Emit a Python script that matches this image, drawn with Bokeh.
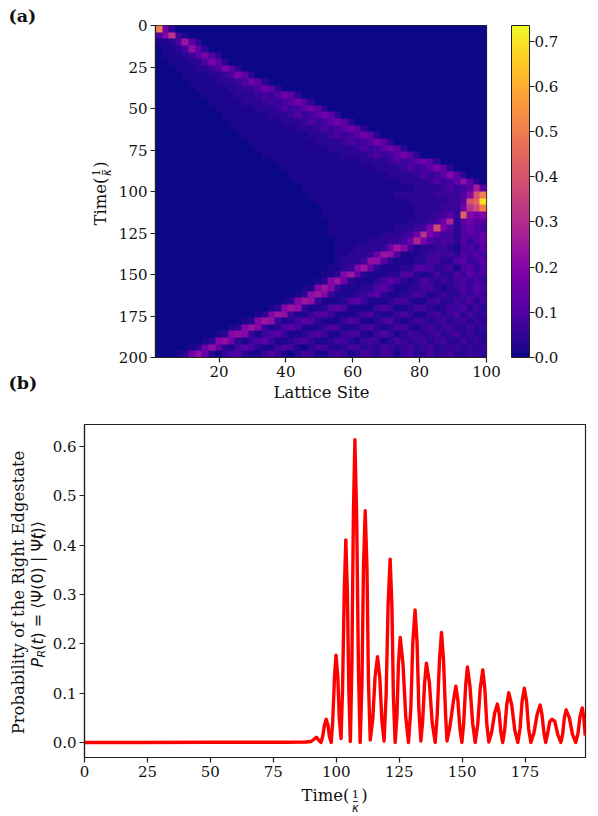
from bokeh.plotting import figure
from bokeh.core.properties import value
from bokeh.models import (ColorBar, FixedTicker, LinearColorMapper,
                          NumeralTickFormatter, Range1d)
from bokeh.layouts import column, row
from bokeh.palettes import Plasma256
from bokeh.embed import file_html
from bokeh.resources import INLINE
import numpy as np
import math

SERIF = "DejaVu Serif"
SANS = "DejaVu Sans"

# Panel (a): estimated intensity per cell, 50 columns (2 sites each) x 50 rows (4 time units each).
# heat_starts gives the first non-background column of each row; each character of
# heat_levels is a base-36 level, in units of 0.02.
heat_starts = [0, 0, 0, 0, 0, 2, 3, 4, 5, 6, 7, 8, 9, 10, 11, 12, 13, 14, 15, 16, 18, 19, 20, 21, 22,
               23, 24, 25, 25, 26, 26, 26, 27, 27, 27, 27, 26, 25, 24, 22, 21, 19, 17, 15, 13, 11, 9, 7, 5, 3]
heat_levels = [
    "p82",
    "5ag31",
    "1125c62",
    "01124b62",
    "0111236952",
    "111225962",
    "1112235962",
    "11112235962",
    "111122235862",
    "1111122335862",
    "111112223435862",
    "1111122234346862",
    "11111122235346862",
    "111111122235346862",
    "1111111122235346862",
    "11111111122235346862",
    "111111111122235346862",
    "1111111111222235346862",
    "11111111111222235346862",
    "111111111111222235346862",
    "1111111111111222235346862",
    "11111111111111222235346962",
    "111111111111111222235346a62",
    "1111111111111111222235346b62",
    "11111111111111111222235346d6",
    "111111111111122222233335akp",
    "11111111111111222222336kmz",
    "1111111111111122223338gjp",
    "111111111111112223463ma8a",
    "111111111111222348e26866",
    "1111111111222349j9525754",
    "11111111222348g964425657",
    "111112223348e9535426357",
    "111222238ca412233214536",
    "1122238cb51112343425464",
    "12224bb6211122442256346",
    "1123ac721112255423414635",
    "112ac72111225521242253645",
    "12ac8211124642125324245353",
    "11aca31112256311224421235364",
    "12bca311123562112353124224353",
    "12acb31112563111244211342243524",
    "12acb3112564111135311244212435242",
    "12acb311356311124521135311342352423",
    "12acb31246521113541124521243234234232",
    "12aca3125641113541124521244213423422423",
    "12aba313563112453113441135312432342342322",
    "12ab821356311245311244213431243234234224232",
    "128b72146521135410244212442324323423422332323",
    "128b72035521135310243113431243243134224234223322",
]
heat_level_unit = 0.02

# Panel (b): probability, with extra flank readings.
time_values = [
    0, 20, 50, 80, 88, 90, 91, 92.1, 93, 93.9, 94.6, 95.3, 96, 96.7, 97.3, 98,
    98.6, 99.3, 99.9, 100.6, 101.2, 101.9, 102.5, 103.2, 103.8, 104.4, 105, 105.6,
    106.2, 106.8, 107.4, 108.1, 108.8, 109.5, 110.2, 110.8, 111.5, 112.2, 112.8, 113.5,
    114.5, 115.4, 116.4, 117.3, 118.1, 119, 119.8, 120.6, 121.4, 122.1, 122.7, 123.4,
    124.1, 124.7, 125.4, 126.5, 127.6, 128.7, 129.6, 130.4, 131.3, 132.1, 132.8, 133.6,
    134.3, 135.1, 135.8, 137, 138.1, 139.3, 140.1, 141, 141.8, 142.6, 143.4, 144,
    145.1, 146.6, 147.5, 148.3, 149.1, 149.9, 150.6, 151.4, 152.1, 153.1, 154.2, 155.2,
    156.2, 157.2, 158.2, 159, 159.8, 160.6, 161.7, 162.9, 164, 164.7, 165.4, 166.1,
    166.9, 167.7, 168.5, 169.7, 170.9, 172.1, 173, 173.8, 174.7, 175.6, 176.4, 177.3,
    178.5, 179.8, 181, 181.7, 182.5, 183.2, 184, 184.8, 185.6, 186.8, 188, 189.2,
    189.9, 190.6, 191.3, 192.6, 193.8, 195.1, 196, 196.8, 197.7, 198.3, 198.9,
]
probability_values = [
    0, 0, 0.0003, 0.0005, 0.001, 0.002, 0.006, 0.0107, 0.005, 0, 0.012, 0.035, 0.047, 0.035, 0.012, 0,
    0.044, 0.133, 0.177, 0.134, 0.05, 0.008, 0.109, 0.31, 0.411, 0.308, 0.105, 0.002,
    0.155, 0.46, 0.614, 0.46, 0.153, 0, 0.118, 0.353, 0.47, 0.354, 0.121, 0.005,
    0.047, 0.132, 0.174, 0.131, 0.046, 0.003, 0.095, 0.28, 0.372, 0.279, 0.093, 0,
    0.053, 0.16, 0.213, 0.16, 0.053, 0, 0.067, 0.202, 0.269, 0.203, 0.07, 0.003,
    0.042, 0.121, 0.161, 0.121, 0.04, 0, 0.056, 0.167, 0.223, 0.168, 0.059, 0.003,
    0.031, 0.086, 0.114, 0.086, 0.029, 0, 0.038, 0.115, 0.153, 0.115, 0.038, 0,
    0.037, 0.11, 0.147, 0.11, 0.037, 0.001, 0.02, 0.059, 0.078, 0.059, 0.02, 0,
    0.025, 0.076, 0.101, 0.076, 0.025, 0, 0.028, 0.083, 0.11, 0.083, 0.028, 0,
    0.019, 0.057, 0.076, 0.057, 0.019, 0, 0.02, 0.042, 0.047, 0.043, 0.016, 0,
    0.016, 0.05, 0.066, 0.05, 0.017, 0, 0.018, 0.052, 0.07, 0.052, 0.014,
]

site_ticks = [20, 40, 60, 80, 100]
heat_time_ticks = [0, 25, 50, 75, 100, 125, 150, 175, 200]
colorbar_ticks = [0.0, 0.1, 0.2, 0.3, 0.4, 0.5, 0.6, 0.7]
line_time_ticks = [0, 25, 50, 75, 100, 125, 150, 175]
prob_ticks = [0.0, 0.1, 0.2, 0.3, 0.4, 0.5, 0.6]


def decode(starts, rows, n=50):
    out = np.zeros((len(rows), n))
    for i, (s, r) in enumerate(zip(starts, rows)):
        for j, c in enumerate(r):
            if s + j < n:
                out[i, s + j] = int(c, 36) * heat_level_unit
    return out


def style(p):
    p.grid.visible = False
    p.outline_line_color = "#222222"
    p.outline_line_width = 1.2
    for ax in (p.xaxis[0], p.yaxis[0]):
        ax.major_label_text_font = SERIF
        ax.major_label_text_font_size = "15px"
        ax.major_label_text_color = "#111111"
        ax.axis_line_color = "#222222"
        ax.axis_line_width = 1.2
        ax.major_tick_line_color = "#222222"
        ax.major_tick_line_width = 1.2
        ax.major_tick_in = 0
        ax.major_tick_out = 5
        ax.minor_tick_line_color = None
        ax.major_label_standoff = 3


mapper = LinearColorMapper(palette=Plasma256, low=0, high=0.735)
heat = decode(heat_starts, heat_levels)

a = figure(frame_width=331, frame_height=332, width=596, height=400,
           x_range=Range1d(1, 100), y_range=Range1d(200, 0),
           min_border_left=155, min_border_right=110, min_border_top=25, min_border_bottom=43,
           output_backend="svg", toolbar_location=None)
a.image(image=[heat], x=1, y=0, dw=99, dh=200, color_mapper=mapper)
style(a)
a.xaxis[0].ticker = FixedTicker(ticks=site_ticks)
a.yaxis[0].ticker = FixedTicker(ticks=heat_time_ticks)
bar = ColorBar(color_mapper=mapper, width=18, height=332, padding=0, margin=0, location=(356, 0),
               ticker=FixedTicker(ticks=colorbar_ticks),
               formatter=NumeralTickFormatter(format="0.0"),
               major_label_text_font=SERIF, major_label_text_font_size="15px",
               major_label_text_color="#111111", label_standoff=0,
               major_tick_line_color="#222222", major_tick_in=0, major_tick_out=5,
               minor_tick_line_color=None,
               bar_line_color="#222222", border_line_color=None, background_fill_alpha=0)
a.add_layout(bar)

b = figure(frame_width=501, frame_height=333, width=596, height=416,
           x_range=Range1d(0, 199), y_range=Range1d(-0.0305, 0.645),
           min_border_left=84, min_border_right=11, min_border_top=24, min_border_bottom=59,
           output_backend="svg", toolbar_location=None)
b.line(time_values, probability_values, line_color="#ff0000", line_width=3.4, line_join="round")
style(b)
b.xaxis[0].ticker = FixedTicker(ticks=line_time_ticks)
b.yaxis[0].ticker = FixedTicker(ticks=prob_ticks)
b.yaxis[0].formatter = NumeralTickFormatter(format="0.0")

# Page-wide transparent layer for the labels that have mixed fonts.
overlay = figure(width=596, height=814, x_range=Range1d(0, 596), y_range=Range1d(814, 0),
                 min_border=0, x_axis_type=None, y_axis_type=None,
                 background_fill_alpha=0, border_fill_alpha=0, outline_line_color=None,
                 output_backend="svg", toolbar_location=None,
                 styles={"position": "absolute", "left": "0px", "top": "0px",
                         "pointer-events": "none", "z-index": "5"})
overlay.grid.visible = False


def put(s, x, y, size, font=SERIF, style_="normal", angle=0.0, align="center", base="middle"):
    overlay.text(x=[x], y=[y], text=[s], text_font=value(font), text_font_size=value(size),
                 text_font_style=style_, text_align=align, text_baseline=base,
                 angle=angle, text_color="#111111")


V = math.pi / 2
put("(a)", 8, 15, "17.5px", style_="bold", align="left")
put("(b)", 8, 382, "17.5px", style_="bold", align="left")
put("Lattice Site", 321, 392, "16.4px")
put("Time(", 100, 201, "16.4px", angle=V)
put(")", 100, 164, "16.4px", angle=V)
put("1", 95, 172, "11.5px", angle=V)
put("κ", 106, 172, "11.5px", SANS, "italic", angle=V)
put("–", 101, 172, "12px", SANS, angle=V)
put("Probability of the Right Edgestate", 18, 592, "16.4px", angle=V)
rot = dict(angle=V, align="left", font=SANS)
put("P", 37, 667, "16px", style_="italic", **rot)
put("R", 41, 657, "11px", style_="italic", **rot)
put("(", 37, 650, "16px", **rot)
put("t", 37, 644, "16px", style_="italic", **rot)
put(") = ⟨Ψ(0) | Ψ(", 37, 638, "16px", **rot)
put("t", 37, 539, "16px", style_="italic", **rot)
put(")⟩", 37, 533, "16px", **rot)
put("Time(", 325, 795, "16.4px")
put(")", 364, 795, "16.4px")
put("1", 355, 793, "11.5px")
put("κ", 355, 807, "11.5px", SANS, "italic")
put("–", 355, 800, "12px", SANS)

open("out.html", "w").write(file_html([column(row(a), row(b), spacing=0), overlay], INLINE))
